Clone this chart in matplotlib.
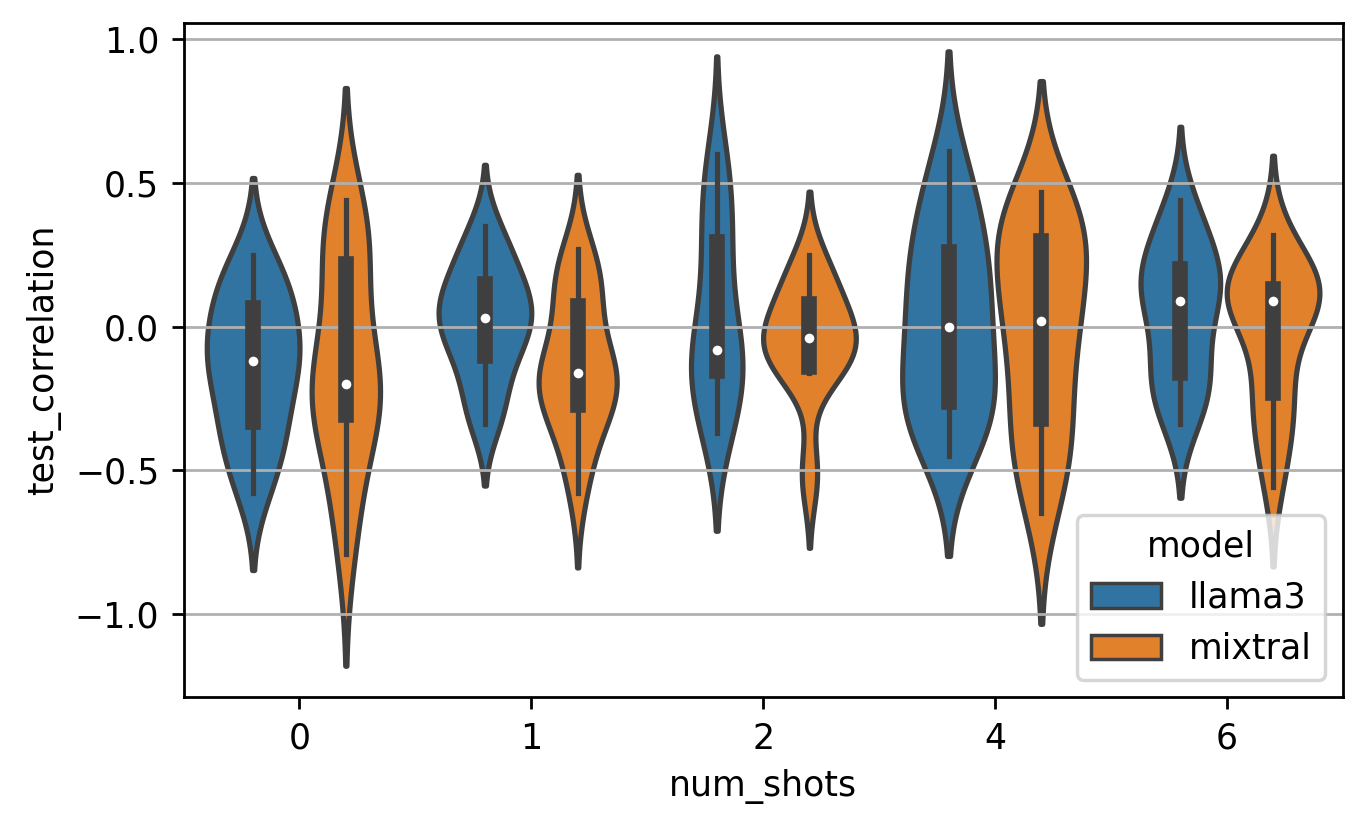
import matplotlib
matplotlib.use("Agg")
import matplotlib.pyplot as plt
import seaborn as sns
import pandas as pd

# estimated per-run test correlations (20 runs per group)
shots = [0, 1, 2, 4, 6]
models = ["llama3", "mixtral"]

llama3_0 = [-0.58, -0.52, -0.45, -0.40, -0.34, -0.33, -0.26, -0.20, -0.15, -0.13,
            -0.11, -0.08, -0.05, -0.02, 0.06, 0.08, 0.11, 0.15, 0.20, 0.25]
mixtral_0 = [-0.79, -0.66, -0.55, -0.45, -0.33, -0.30, -0.27, -0.24, -0.22, -0.21,
             -0.19, -0.12, -0.04, 0.06, 0.21, 0.24, 0.29, 0.34, 0.39, 0.44]
llama3_1 = [-0.34, -0.30, -0.26, -0.18, -0.11, -0.10, -0.06, -0.02, 0.01, 0.02,
            0.04, 0.06, 0.08, 0.11, 0.14, 0.17, 0.21, 0.25, 0.30, 0.35]
mixtral_1 = [-0.58, -0.48, -0.40, -0.33, -0.28, -0.27, -0.24, -0.21, -0.19, -0.17,
             -0.15, -0.13, -0.10, -0.05, 0.06, 0.10, 0.14, 0.18, 0.22, 0.27]
llama3_2 = [-0.37, -0.35, -0.32, -0.28, -0.19, -0.145, -0.13, -0.11, -0.10, -0.09,
            -0.07, 0.04, 0.13, 0.21, 0.28, 0.34, 0.41, 0.48, 0.55, 0.60]
mixtral_2 = [-0.55, -0.48, -0.16, -0.15, -0.145, -0.14, -0.10, -0.07, -0.055, -0.045,
             -0.035, -0.02, 0.0, 0.03, 0.07, 0.10, 0.13, 0.17, 0.21, 0.25]
llama3_4 = [-0.45, -0.40, -0.35, -0.30, -0.27, -0.26, -0.20, -0.14, -0.08, -0.03,
            0.03, 0.08, 0.13, 0.18, 0.25, 0.29, 0.35, 0.42, 0.51, 0.61]
mixtral_4 = [-0.65, -0.55, -0.47, -0.40, -0.33, -0.32, -0.20, -0.08, -0.02, 0.01,
             0.03, 0.12, 0.20, 0.25, 0.29, 0.32, 0.35, 0.38, 0.42, 0.47]
llama3_6 = [-0.34, -0.30, -0.25, -0.20, -0.17, -0.16, -0.10, -0.02, 0.04, 0.08,
            0.10, 0.13, 0.16, 0.18, 0.19, 0.23, 0.28, 0.33, 0.38, 0.44]
mixtral_6 = [-0.56, -0.45, -0.38, -0.30, -0.24, -0.23, -0.12, -0.02, 0.05, 0.08,
             0.10, 0.105, 0.11, 0.12, 0.13, 0.14, 0.16, 0.20, 0.26, 0.32]

groups = {
    (0, "llama3"): llama3_0, (0, "mixtral"): mixtral_0,
    (1, "llama3"): llama3_1, (1, "mixtral"): mixtral_1,
    (2, "llama3"): llama3_2, (2, "mixtral"): mixtral_2,
    (4, "llama3"): llama3_4, (4, "mixtral"): mixtral_4,
    (6, "llama3"): llama3_6, (6, "mixtral"): mixtral_6,
}

rows = []
for (n, m), vals in groups.items():
    for v in vals:
        rows.append({"num_shots": n, "pos": shots.index(n), "model": m,
                     "test_correlation": v})
df = pd.DataFrame(rows)

fig, ax = plt.subplots(figsize=(5.48, 3.32), dpi=250)

# one call per shot count so the two violins in a group are scaled against each other
for i, n in enumerate(shots):
    sub = df[df["num_shots"] == n]
    sns.violinplot(data=sub, x="pos", y="test_correlation", hue="model",
                   hue_order=models, native_scale=True, orient="x",
                   common_norm=True,
                   linewidth=1.5, linecolor="#3f3f3f",
                   inner_kws=dict(box_width=4.5, whis_width=1.5, marker="."),
                   legend=(i == 0), ax=ax)

ax.set_xticks(range(len(shots)))
ax.set_xticklabels([str(s) for s in shots])
ax.set_xlim(-0.5, len(shots) - 0.5)
ax.set_xlabel("num_shots")
ax.grid(axis="y")
ax.set_ylim(-1.29, 1.056)
sns.move_legend(ax, "lower right", title="model")
for h in ax.get_legend().legend_handles:
    h.set_linewidth(1.0)
fig.subplots_adjust(left=0.134, right=0.980, top=0.972, bottom=0.160)
fig.savefig("out.png", dpi=250)
